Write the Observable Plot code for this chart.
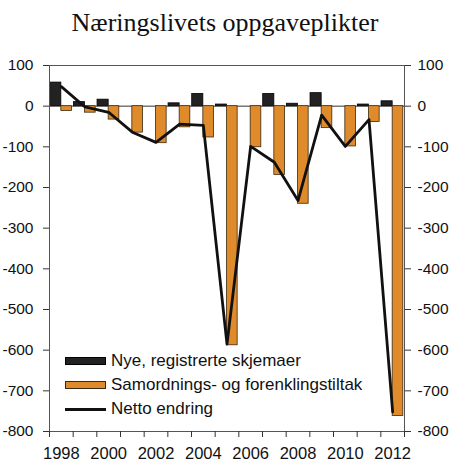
<!DOCTYPE html>
<html>
<head>
<meta charset="utf-8">
<script src="https://cdn.jsdelivr.net/npm/d3@7"></script>
<script src="https://cdn.jsdelivr.net/npm/@observablehq/plot@0.6"></script>
<style>
  body { margin: 0; background: #fff; }
  #wrap { position: relative; width: 450px; height: 476px; }
  #title {
    height: 45px; box-sizing: border-box; padding-top: 8px;
    text-align: center; font-family: "Liberation Serif", "Times New Roman", serif;
    font-size: 26px; line-height: 30px; color: #111;
  }
  #legend {
    position: absolute; left: 65px; top: 349px;
    font-family: Arial, "Liberation Sans", sans-serif; font-size: 17px; color: #111;
  }
  .row { display: flex; align-items: center; height: 24px; }
  .sw { width: 41px; height: 8px; box-sizing: border-box; margin-right: 5px; }
  .ln { width: 41px; height: 3px; background: #111; margin-right: 5px; }
</style>
</head>
<body>
<div id="wrap">
  <div id="title">Næringslivets oppgaveplikter</div>
  <div id="chart"></div>
  <div id="legend"></div>
</div>
<script>
// data lest av figuren
const years = [1998, 1999, 2000, 2001, 2002, 2003, 2004, 2005, 2006, 2007, 2008, 2009, 2010, 2011, 2012]
const nye = [58, 10, 16, 0, 0, 7, 30, 4, 0, 30, 6, 32, 0, 4, 12]
const samordning = [-12, -16, -33, -65, -91, -52, -77, -588, -101, -169, -240, -54, -99, -39, -762]
const netto = [48, -2, -15, -64, -89, -44, -47, -585, -99, -138, -232, -22, -99, -33, -752]
const yTicks = [100, 0, -100, -200, -300, -400, -500, -600, -700, -800]
const xLabels = [1998, 2000, 2002, 2004, 2006, 2008, 2010, 2012]

const seriesNames = ["Nye, registrerte skjemaer", "Samordnings- og forenklingstiltak", "Netto endring"]
const black = "#222222"
const orange = "#DF8A2B"

const table = years.map((year, i) => ({year, nye: nye[i], sam: samordning[i], netto: netto[i]}))
const bounds = years.map(y => y - 0.5).concat([years[years.length - 1] + 0.5])

let chart = Plot.plot({
  width: 450,
  height: 431,
  marginTop: 20,
  marginBottom: 45,
  marginLeft: 49,
  marginRight: 46,
  x: {domain: [bounds[0], bounds[bounds.length - 1]]},
  y: {domain: [-800, 100]},
  style: {fontFamily: "Arial, 'Liberation Sans', sans-serif", fontSize: "15.5px", color: "#111"},
  marks: [
    Plot.ruleY([0], {stroke: "#333", strokeWidth: 1}),
    Plot.rectY(table, {x1: d => d.year - 0.47, x2: d => d.year, y1: 0, y2: "nye", fill: black, stroke: "#000", strokeWidth: 0.8}),
    Plot.rectY(table, {x1: d => d.year, x2: d => d.year + 0.45, y1: 0, y2: "sam", fill: orange, stroke: "#3b2a12", strokeWidth: 0.8}),
    Plot.line(table, {x: "year", y: "netto", stroke: "#111", strokeWidth: 2.8}),
    Plot.frame({stroke: "#555"}),
    // ticks på grensene mellom årene
    Plot.axisX({ticks: bounds, tickFormat: () => "", tickSize: 6, stroke: "#333", label: null}),
    Plot.axisX({ticks: xLabels, tickFormat: d => `${d}`, tickSize: 0, tickPadding: 16, fontSize: 16.5, label: null}),
    Plot.axisY({anchor: "left", ticks: yTicks, tickFormat: d => `${d}`, tickSize: 6, tickPadding: 10, label: null, stroke: "#333"}),
    Plot.axisY({anchor: "right", ticks: yTicks, tickFormat: d => `${d}`, tickSize: 6, tickPadding: 7, label: null, stroke: "#333"})
  ]
})
d3.select('#chart').append(() => chart)

// legende inne i plottet
const leg = d3.select('#legend')
const swatches = [
  {cls: "sw", bg: black, border: "#000"},
  {cls: "sw", bg: orange, border: "#3b2a12"},
  {cls: "ln"}
]
seriesNames.forEach((name, i) => {
  const row = leg.append('div').attr('class', 'row')
  const s = row.append('div').attr('class', swatches[i].cls)
  if (swatches[i].bg) s.style('background', swatches[i].bg).style('border', `1px solid ${swatches[i].border}`)
  row.append('span').text(name)
})
</script>
</body>
</html>
